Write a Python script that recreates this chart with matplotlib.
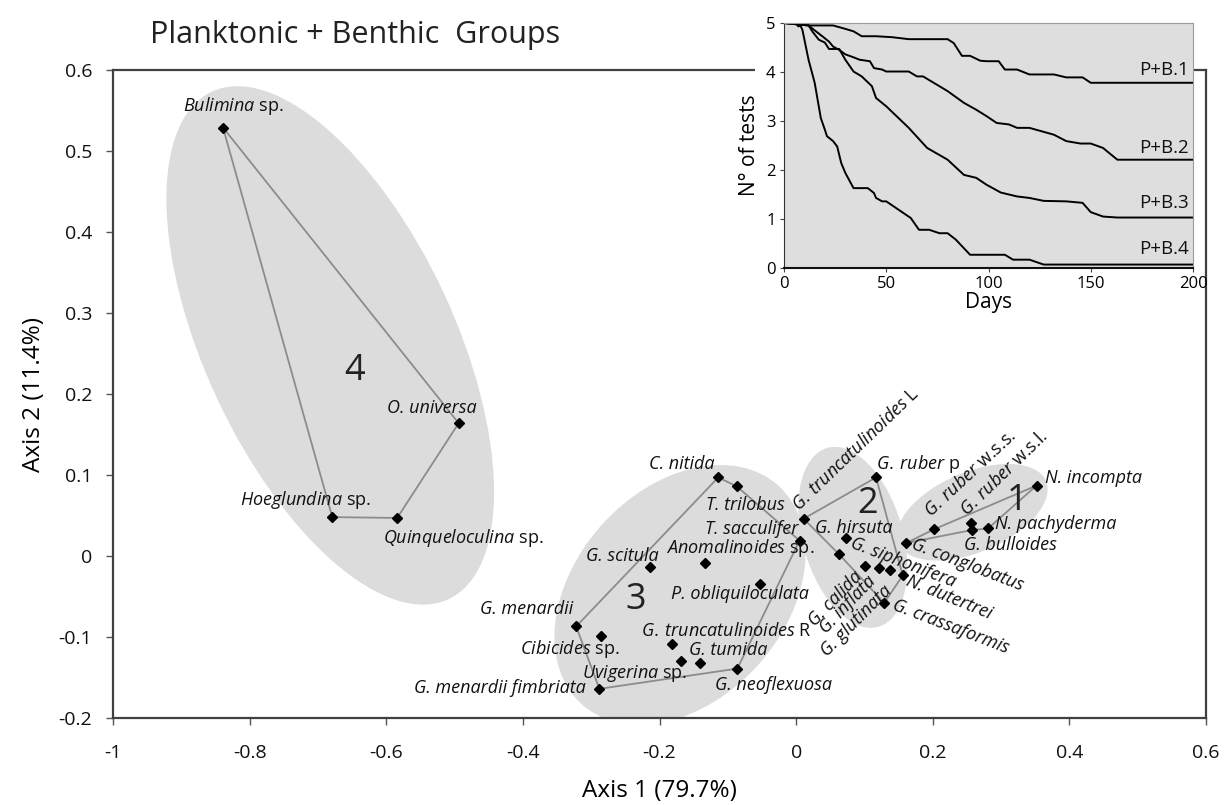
import matplotlib
matplotlib.use('Agg')
import matplotlib.pyplot as plt
from matplotlib.patches import Ellipse, Rectangle
from matplotlib.transforms import Affine2D

plt.rcParams['font.family'] = ['Open Sans', 'DejaVu Sans']
plt.rcParams['mathtext.fontset'] = 'custom'
plt.rcParams['mathtext.rm'] = 'Open Sans'
plt.rcParams['mathtext.it'] = 'Open Sans:italic'

# ---------------- data: main ordination ----------------
species = ["Bulimina sp.", "O. universa", "Hoeglundina sp.", "Quinqueloculina sp.",
           "C. nitida", "T. trilobus", "T. sacculifer", "G. scitula", "Anomalinoides sp.",
           "P. obliquiloculata", "G. menardii", "Cibicides sp.", "G. truncatulinoides R",
           "Uvigerina sp.", "G. tumida", "G. neoflexuosa", "G. menardii fimbriata",
           "G. truncatulinoides L", "G. ruber p", "G. siphonifera", "G. hirsuta",
           "G. calida", "G. inflata", "G. glutinata", "N. dutertrei", "G. crassaformis",
           "G. conglobatus", "G. ruber w.s.s.", "G. ruber w.s.l.", "G. bulloides",
           "N. pachyderma", "N. incompta"]
axis1 = [-0.839, -0.494, -0.679, -0.584,
         -0.114, -0.087, 0.005, -0.214, -0.133,
         -0.053, -0.322, -0.286, -0.181,
         -0.169, -0.141, -0.086, -0.288,
         0.011, 0.117, 0.073, 0.063,
         0.101, 0.122, 0.138, 0.156, 0.129,
         0.161, 0.202, 0.256, 0.257,
         0.281, 0.352]
axis2 = [0.529, 0.164, 0.048, 0.047,
         0.097, 0.086, 0.019, -0.013, -0.009,
         -0.034, -0.087, -0.099, -0.109,
         -0.130, -0.132, -0.139, -0.164,
         0.046, 0.097, 0.022, 0.002,
         -0.012, -0.015, -0.017, -0.024, -0.058,
         0.016, 0.033, 0.041, 0.032,
         0.034, 0.087]

hull_4 = ["Bulimina sp.", "O. universa", "Quinqueloculina sp.", "Hoeglundina sp.", "Bulimina sp."]
hull_3 = ["C. nitida", "T. trilobus", "T. sacculifer", "G. neoflexuosa",
          "G. menardii fimbriata", "G. menardii", "C. nitida"]
hull_2 = ["G. truncatulinoides L", "G. ruber p", "N. dutertrei", "G. crassaformis",
          "G. hirsuta", "G. truncatulinoides L"]
hull_1 = ["G. conglobatus", "G. ruber w.s.s.", "N. incompta", "N. pachyderma",
          "G. bulloides", "G. conglobatus"]

x_ticks = [-1, -0.8, -0.6, -0.4, -0.2, 0, 0.2, 0.4, 0.6]
x_tick_labels = ["-1", "-0.8", "-0.6", "-0.4", "-0.2", "0", "0.2", "0.4", "0.6"]
y_ticks = [-0.2, -0.1, 0, 0.1, 0.2, 0.3, 0.4, 0.5, 0.6]
y_tick_labels = ["-0.2", "-0.1", "0", "0.1", "0.2", "0.3", "0.4", "0.5", "0.6"]

# ---------------- data: inset survival curves ----------------
pb1_days = [0, 7, 13, 24, 30, 34, 38, 45, 53, 61, 80, 83, 87, 91, 96, 99, 105, 108,
            114, 120, 132, 138, 146, 150, 200]
pb1_tests = [5, 4.97, 4.95, 4.95, 4.88, 4.83, 4.73, 4.73, 4.71, 4.67, 4.67, 4.59, 4.33,
             4.33, 4.23, 4.22, 4.22, 4.05, 4.05, 3.95, 3.95, 3.89, 3.89, 3.78, 3.78]
pb2_days = [0, 12, 15, 19, 22, 24, 27, 30, 34, 37, 42, 44, 48, 50, 61, 65, 68, 80, 88,
            94, 99, 104, 110, 114, 120, 132, 138, 145, 150, 156, 163, 200]
pb2_tests = [5, 4.95, 4.85, 4.72, 4.62, 4.52, 4.45, 4.36, 4.3, 4.25, 4.22, 4.08, 4.05,
             4.01, 4.01, 3.91, 3.91, 3.61, 3.37, 3.23, 3.10, 2.96, 2.93, 2.86, 2.86,
             2.72, 2.59, 2.54, 2.54, 2.45, 2.21, 2.21]
pb3_days = [0, 12, 14, 17, 20, 22, 27, 30, 34, 38, 43, 45, 50, 61, 70, 80, 88, 94, 99,
            106, 114, 120, 127, 138, 146, 150, 156, 163, 200]
pb3_tests = [5, 4.95, 4.82, 4.66, 4.6, 4.47, 4.47, 4.25, 4.01, 3.91, 3.71, 3.47, 3.30,
             2.86, 2.45, 2.21, 1.90, 1.84, 1.70, 1.54, 1.46, 1.43, 1.37, 1.36, 1.33,
             1.14, 1.05, 1.03, 1.03]
pb4_days = [0, 6, 7, 8, 9, 12, 15, 17, 18, 20, 21, 24, 26, 28, 30, 34, 41, 44, 45, 48,
            50, 62, 66, 71, 76, 80, 84, 91, 108, 112, 120, 127, 200]
pb4_tests = [5, 5, 4.93, 4.95, 4.86, 4.25, 3.78, 3.30, 3.06, 2.82, 2.69, 2.59, 2.48,
             2.14, 1.94, 1.63, 1.63, 1.53, 1.43, 1.36, 1.36, 1.02, 0.78, 0.78, 0.71,
             0.71, 0.58, 0.27, 0.27, 0.17, 0.17, 0.07, 0.07]
curve_names = ["P+B.1", "P+B.2", "P+B.3", "P+B.4"]

# ---------------- layout (positions of labels / shapes) ----------------
W, H = 1227, 805
fig = plt.figure(figsize=(W / 100, H / 100), dpi=100)
ax_l, ax_r, ax_t, ax_b = 113, 1206, 70, 718
ax = fig.add_axes([ax_l / W, 1 - ax_b / H, (ax_r - ax_l) / W, (ax_b - ax_t) / H])
ax.set_xlim(-1, 0.6)
ax.set_ylim(-0.2, 0.6)
px_x = (ax_r - ax_l) / 1.6   # pixels per unit
px_y = (ax_b - ax_t) / 0.8

# ellipses: (cx, cy) data, semi-axes in px, angle deg
ellipses = [(-0.682, 0.260, 280, 125, -65),
            (-0.170, -0.048, 147, 105, 48),
            (0.083, 0.023, 93, 50, -74),
            (0.258, 0.054, 80, 40, 23)]
for cx, cy, a, b, ang in ellipses:
    e = Ellipse((0, 0), 2 * a, 2 * b, angle=ang, facecolor='#dcdcdc', edgecolor='none',
                transform=Affine2D().scale(1 / px_x, 1 / px_y).translate(cx, cy) + ax.transData,
                zorder=1)
    ax.add_patch(e)

idx = {s: i for i, s in enumerate(species)}
for hull in (hull_4, hull_3, hull_2, hull_1):
    ax.plot([axis1[idx[s]] for s in hull], [axis2[idx[s]] for s in hull],
            color='#8c8c8c', lw=1.3, zorder=2)
ax.plot(axis1, axis2, linestyle='none', marker='D', markersize=5.5, color='black', zorder=4)

label_fs = 13
labels = [
    (r"$\mathit{Bulimina}$ sp.", -0.824, 0.556, 'center', 'center', 0),
    ("O. universa*", -0.533, 0.183, 'center', 'center', 0),
    (r"$\mathit{Hoeglundina}$ sp.", -0.622, 0.069, 'right', 'center', 0),
    (r"$\mathit{Quinqueloculina}$ sp.", -0.370, 0.022, 'right', 'center', 0),
    ("C. nitida*", -0.167, 0.114, 'center', 'center', 0),
    ("T. trilobus*", -0.075, 0.063, 'center', 'center', 0),
    ("T. sacculifer*", -0.065, 0.033, 'center', 'center', 0),
    ("G. scitula*", -0.255, 0.000, 'center', 'center', 0),
    (r"$\mathit{Anomalinoides}$ sp.", -0.082, 0.0095, 'center', 'center', 0),
    ("P. obliquiloculata*", -0.082, -0.047, 'center', 'center', 0),
    ("G. menardii*", -0.394, -0.066, 'center', 'center', 0),
    (r"$\mathit{G.\:truncatulinoides}$ R", -0.102, -0.092, 'center', 'center', 0),
    (r"$\mathit{Cibicides}$ sp.", -0.331, -0.115, 'center', 'center', 0),
    ("G. tumida*", -0.099, -0.116, 'center', 'center', 0),
    (r"$\mathit{Uvigerina}$ sp.", -0.236, -0.145, 'center', 'center', 0),
    ("G. menardii fimbriata*", -0.433, -0.163, 'center', 'center', 0),
    ("G. neoflexuosa*", -0.033, -0.159, 'center', 'center', 0),
    (r"$\mathit{G.\:truncatulinoides}$ L", 0.004, 0.055, 'left', 'baseline', 44),
    (r"$\mathit{G.\:ruber}$ p", 0.179, 0.114, 'center', 'center', 0),
    ("G. hirsuta*", 0.084, 0.035, 'center', 'center', 0),
    ("G. siphonifera*", 0.080, 0.016, 'left', 'center', -21),
    ("G. conglobatus*", 0.170, 0.015, 'left', 'center', -21),
    ("N. dutertrei*", 0.162, -0.030, 'left', 'center', -22),
    ("G. crassaformis*", 0.142, -0.060, 'left', 'center', -21),
    ("G. calida*", 0.093, -0.022, 'right', 'center', 46),
    ("G. inflata*", 0.113, -0.028, 'right', 'center', 46),
    ("G. glutinata*", 0.136, -0.040, 'right', 'center', 45),
    (r"$\mathit{G.\:ruber}$ w.s.s.", 0.197, 0.047, 'left', 'baseline', 43),
    (r"$\mathit{G.\:ruber}$ w.s.l.", 0.249, 0.049, 'left', 'baseline', 44),
    ("N. incompta*", 0.365, 0.096, 'left', 'center', 0),
    ("N. pachyderma*", 0.291, 0.039, 'left', 'center', 0),
    ("G. bulloides*", 0.313, 0.014, 'center', 'center', 0),
]
for txt, x, y, ha, va, rot in labels:
    style = 'normal'
    if txt.endswith('*'):
        txt = txt[:-1]
        style = 'italic'
    ax.text(x, y, txt, ha=ha, va=va, rotation=rot, rotation_mode='anchor',
            fontsize=label_fs, style=style, color='#111111', zorder=5)

clusters = [("1", 0.323, 0.068), ("2", 0.105, 0.064), ("3", -0.235, -0.054), ("4", -0.646, 0.228)]
for t, x, y in clusters:
    ax.text(x, y, t, ha='center', va='center', fontsize=26, color='#222222', zorder=5)

ax.set_xticks(x_ticks)
ax.set_xticklabels(x_tick_labels)
ax.set_yticks(y_ticks)
ax.set_yticklabels(y_tick_labels)
ax.tick_params(axis='both', direction='out', length=5, width=1, color='#555555',
               labelsize=14, labelcolor='#111111')
ax.tick_params(axis='x', pad=14)
ax.tick_params(axis='y', pad=10)
for sp in ax.spines.values():
    sp.set_color('#404040')
    sp.set_linewidth(1.6)
ax.set_xlabel("Axis 1 (79.7%)", fontsize=17.5, labelpad=12)
ax.set_ylabel("Axis 2 (11.4%)", fontsize=17.5, labelpad=9)

fig.text(150 / W, 1 - 35 / H, "Planktonic + Benthic  Groups", ha='left', va='center',
         fontsize=22, color='#222222')

# ---------------- inset ----------------
fig.patches.append(Rectangle((755 / W, 1 - 320 / H), (1193 - 755) / W, 320 / H,
                             transform=fig.transFigure, facecolor='white',
                             edgecolor='none', zorder=2))
in_l, in_r, in_t, in_b = 784, 1193, 23, 268
ins = fig.add_axes([in_l / W, 1 - in_b / H, (in_r - in_l) / W, (in_b - in_t) / H], zorder=3)
ins.set_facecolor('#dedede')
ins.set_xlim(0, 200)
ins.set_ylim(0, 5)
for d, v in ((pb1_days, pb1_tests), (pb2_days, pb2_tests), (pb3_days, pb3_tests),
             (pb4_days, pb4_tests)):
    ins.plot(d, v, color='black', lw=1.4)
for name, yl in zip(curve_names, (4.05, 2.45, 1.33, 0.39)):
    ins.text(198, yl, name, ha='right', va='center', fontsize=13.5, color='#111111')
ins.set_xticks([0, 50, 100, 150, 200])
ins.set_yticks([0, 1, 2, 3, 4, 5])
ins.tick_params(direction='out', length=3, labelsize=12, pad=3, color='#444444')
ins.spines['top'].set_color('#9a9a9a')
ins.spines['right'].set_color('#9a9a9a')
ins.spines['left'].set_color('#333333')
ins.spines['bottom'].set_color('#111111')
ins.spines['bottom'].set_linewidth(1.5)
ins.set_xlabel("Days", fontsize=15, labelpad=0)
ins.set_ylabel("N° of tests", fontsize=15, labelpad=4)

fig.savefig("out.png", dpi=100)
